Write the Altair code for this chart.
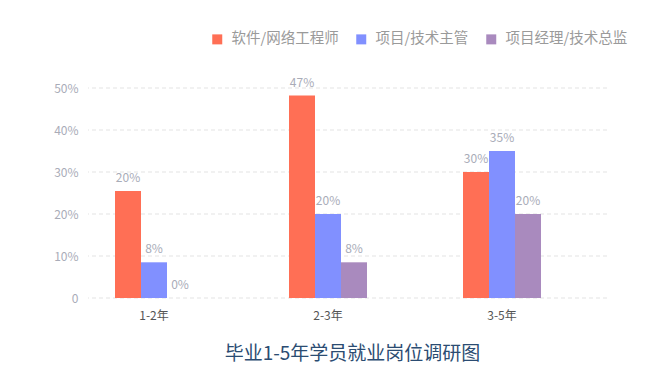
import altair as alt
import pandas as pd

categories = ["1-2年", "2-3年", "3-5年"]
series = ["软件/网络工程师", "项目/技术主管", "项目经理/技术总监"]
software = [25.5, 48.2, 30.0]
lead = [8.5, 20.0, 35.0]
manager = [0.0, 8.5, 20.0]
software_labels = ["20%", "47%", "30%"]
lead_labels = ["8%", "20%", "35%"]
manager_labels = ["0%", "8%", "20%"]
y_ticks = [0, 10, 20, 30, 40, 50]
colors = ["#ff6f55", "#8190ff", "#a98abe"]

rows = []
for vals, labs, s in [(software, software_labels, series[0]),
                      (lead, lead_labels, series[1]),
                      (manager, manager_labels, series[2])]:
    for c, v, l in zip(categories, vals, labs):
        rows.append({"cat": c, "series": s, "value": v, "label": l})
df = pd.DataFrame(rows)
grid_df = pd.DataFrame({"value": y_ticks})

FONT = "Noto Sans CJK SC"

x = alt.X("cat:N", sort=categories, title=None,
          scale=alt.Scale(range=[-21, 501], paddingInner=0, paddingOuter=0),
          axis=alt.Axis(labelAngle=0, ticks=False, domain=False, grid=False,
                        labelPadding=12, labelFontSize=12, labelColor="#555555",
                        labelFont=FONT))
xo = alt.XOffset("series:N", sort=series,
                 scale=alt.Scale(range=[48, 126], paddingInner=0, paddingOuter=0))
y = alt.Y("value:Q", title=None,
          scale=alt.Scale(domain=[0, 50], nice=False),
          axis=alt.Axis(values=y_ticks, ticks=False, domain=False, grid=False,
                        labelExpr="datum.value == 0 ? '0' : datum.value + '%'",
                        labelPadding=10, labelFontSize=12, labelColor="#a9acb8",
                        labelFont=FONT))

grid = alt.Chart(grid_df).mark_rule(color="#e3e3e3", strokeDash=[4, 3],
                                    strokeWidth=1).encode(
    y=alt.Y("value:Q", scale=alt.Scale(domain=[0, 50], nice=False)))

bars = alt.Chart(df).mark_bar().encode(
    x=x, xOffset=xo, y=y,
    color=alt.Color("series:N", sort=series,
                    scale=alt.Scale(domain=series, range=colors),
                    legend=alt.Legend(title=None, orient="none", direction="horizontal",
                                      legendX=122, legendY=-56, symbolType="square",
                                      symbolSize=100, symbolStrokeWidth=0,
                                      labelFontSize=14.5, labelColor="#9a9a9a",
                                      labelFont=FONT, labelOffset=7, columnPadding=15)),
)

texts = alt.Chart(df).mark_text(baseline="bottom", dy=-6, fontSize=12,
                                color="#a9acb8", font=FONT).encode(
    x=x, xOffset=xo, y=y, text="label:N")

chart = alt.layer(grid, bars, texts).properties(
    width=519, height=210,
    autosize=alt.AutoSizeParams(type="none"),
    padding={"left": 88, "top": 88, "right": 58, "bottom": 79},
    title=alt.TitleParams("毕业1-5年学员就业岗位调研图", orient="bottom", anchor="middle",
                          fontSize=19, font=FONT, fontWeight="normal",
                          color="#2b4c72", offset=24, dx=5),
).configure_view(stroke=None)

chart.save("out.html", embed_options={"renderer": "svg", "actions": False})
